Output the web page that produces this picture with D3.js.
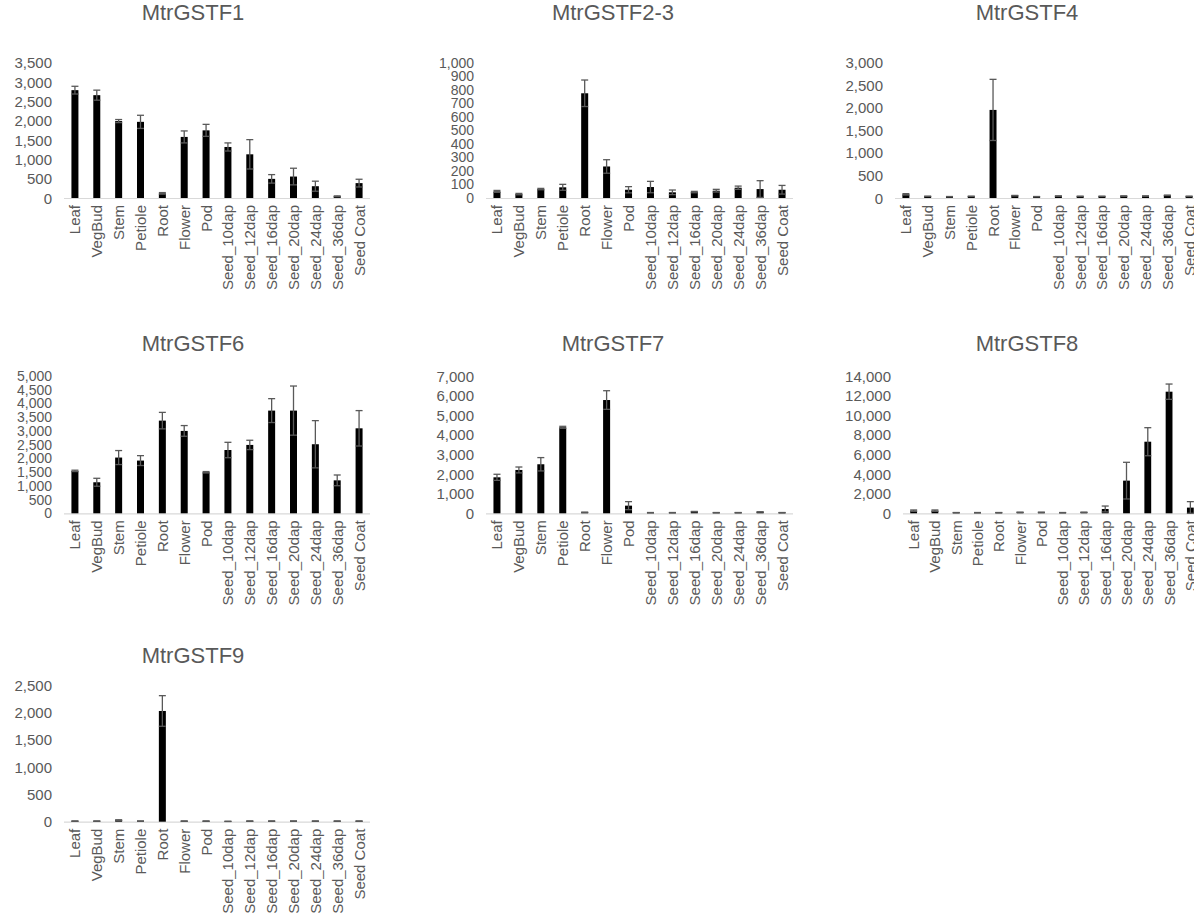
<!DOCTYPE html>
<html><head><meta charset="utf-8">
<script src="https://cdn.jsdelivr.net/npm/d3@7"></script>
<style>
body{margin:0;background:#fff;}
svg{display:block;}
text{font-family:"Liberation Sans",Arial,sans-serif;fill:#595959;}
</style></head><body>
<svg id="c" width="1194" height="916"></svg>
<script>
const categories = ["Leaf","VegBud","Stem","Petiole","Root","Flower","Pod","Seed_10dap","Seed_12dap","Seed_16dap","Seed_20dap","Seed_24dap","Seed_36dap","Seed Coat"];

const titles = ["MtrGSTF1","MtrGSTF2-3","MtrGSTF4","MtrGSTF6","MtrGSTF7","MtrGSTF8","MtrGSTF9"];

const gstf1Mean = [2790,2660,1990,1970,120,1580,1750,1320,1130,495,555,305,45,385];
const gstf1Err  = [100,130,40,170,20,155,155,105,380,110,215,130,10,100];
const gstf23Mean = [49,29,66,79,774,233,61,81,42,44,54,76,66,61];
const gstf23Err  = [7,5,5,22,98,50,23,42,17,5,10,12,62,32];
const gstf4Mean = [81,37,30,37,1953,52,30,44,37,37,44,44,59,37];
const gstf4Err  = [15,3,3,3,678,5,3,3,3,3,3,3,5,3];
const gstf6Mean = [1545,1130,2030,1920,3375,3000,1495,2305,2490,3740,3740,2515,1200,3095];
const gstf6Err  = [25,145,255,180,300,195,25,280,170,435,895,860,195,645];
const gstf7Mean = [1835,2210,2500,4385,50,5775,390,35,35,85,35,35,70,35];
const gstf7Err  = [155,150,340,50,5,475,205,5,5,10,5,5,8,5];
const gstf8Mean = [270,270,70,70,70,100,100,70,100,440,3330,7300,12400,580];
const gstf8Err  = [70,70,10,10,10,10,10,10,10,300,1870,1430,780,610];
const gstf9Mean = [12,12,30,12,2025,12,12,6,12,12,12,12,12,12];
const gstf9Err  = [2,2,5,2,280,2,2,2,2,2,2,2,2,2];

const yMax = [3500,1000,3000,5000,7000,14000,2500];
const yStep = [500,100,500,500,1000,2000,500];

const means = [gstf1Mean,gstf23Mean,gstf4Mean,gstf6Mean,gstf7Mean,gstf8Mean,gstf9Mean];
const errs = [gstf1Err,gstf23Err,gstf4Err,gstf6Err,gstf7Err,gstf8Err,gstf9Err];

// layout: x range of band axis, y zero and top, title center
const layout = [
  {x0:64, x1:370, y0:198, y1:62.7, tx:193, ty:12, fs:15},
  {x0:486, x1:793, y0:198, y1:62.7, tx:613, ty:12, fs:14},
  {x0:895, x1:1200, y0:198, y1:62.7, tx:1027, ty:12, fs:15},
  {x0:64, x1:370, y0:513.3, y1:376, tx:193, ty:343, fs:14},
  {x0:486, x1:793, y0:513.3, y1:376, tx:613, ty:343, fs:15},
  {x0:903, x1:1201, y0:513.3, y1:376, tx:1027, ty:343, fs:15},
  {x0:64, x1:370, y0:821.7, y1:685, tx:193, ty:655, fs:15}
];

const svg = d3.select("#c");

titles.forEach((t,i)=>{
  const L = layout[i];
  const g = svg.append("g");
  const x = d3.scaleBand().domain(categories).range([L.x0,L.x1]).paddingInner(0.68).paddingOuter(0.34);
  const y = d3.scaleLinear().domain([0,yMax[i]]).range([L.y0,L.y1]);

  g.append("text").attr("x",L.tx).attr("y",L.ty).attr("text-anchor","middle")
    .attr("dominant-baseline","central").style("font-size","22px").text(t);

  // y tick labels
  const ticks = d3.range(0,yMax[i]+yStep[i]/2,yStep[i]);
  const fmt = d3.format(",");
  g.selectAll(".yt").data(ticks).join("text")
    .attr("x",L.x0-12).attr("y",d=>y(d)).attr("text-anchor","end")
    .attr("dominant-baseline","central").style("font-size",L.fs+"px").text(d=>fmt(d));

  // axis line
  g.append("line").attr("x1",L.x0).attr("x2",L.x1).attr("y1",L.y0+0.5).attr("y2",L.y0+0.5)
    .attr("stroke","#d9d9d9").attr("stroke-width",1.2);

  const data = categories.map((c,k)=>({c, v:means[i][k], e:errs[i][k]}));
  // bars
  g.selectAll(".bar").data(data).join("rect")
    .attr("x",d=>x(d.c)).attr("width",x.bandwidth())
    .attr("y",d=>y(d.v)).attr("height",d=>L.y0-y(d.v)).attr("fill","#000");

  // error bars
  const eb = g.selectAll(".eb").data(data).join("g");
  const cx = d=>x(d.c)+x.bandwidth()/2;
  eb.append("line").attr("x1",cx).attr("x2",cx)
    .attr("y1",d=>y(Math.max(0,d.v-d.e))).attr("y2",d=>y(d.v+d.e))
    .attr("stroke","#595959").attr("stroke-width",1.3);
  eb.append("line").attr("x1",d=>cx(d)-3.5).attr("x2",d=>cx(d)+3.5)
    .attr("y1",d=>y(d.v+d.e)).attr("y2",d=>y(d.v+d.e))
    .attr("stroke","#595959").attr("stroke-width",1.3);
  eb.append("line").attr("x1",d=>cx(d)-3.5).attr("x2",d=>cx(d)+3.5)
    .attr("y1",d=>y(Math.max(0,d.v-d.e))).attr("y2",d=>y(Math.max(0,d.v-d.e)))
    .attr("stroke","#595959").attr("stroke-width",1.3);

  // category labels
  g.selectAll(".cl").data(categories).join("text")
    .attr("transform",d=>`translate(${x(d)+x.bandwidth()/2},${L.y0+7}) rotate(-90)`)
    .attr("text-anchor","end").attr("dominant-baseline","central")
    .style("font-size","15px").text(d=>d);
});
</script>
</body></html>
